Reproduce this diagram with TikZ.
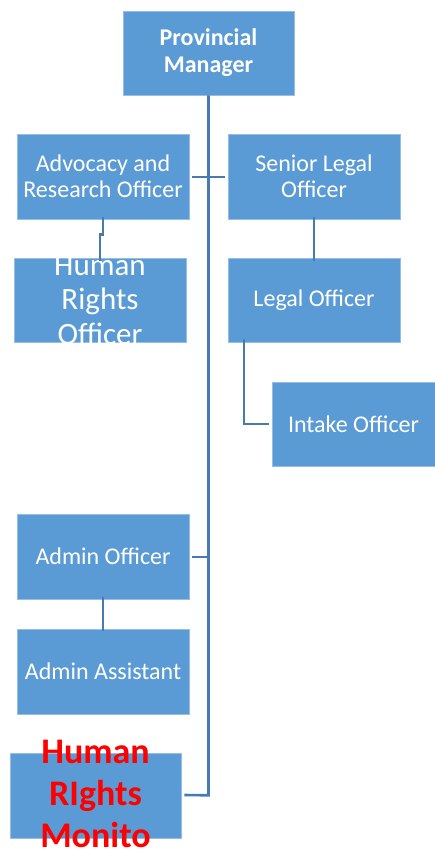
\documentclass[tikz,border=0pt]{standalone}
\usepackage{fontspec}
\setmainfont{Carlito}
\definecolor{boxblue}{RGB}{91,155,213}
\definecolor{boxedge}{RGB}{150,190,228}
\definecolor{linkblue}{RGB}{72,122,178}
\definecolor{alertred}{RGB}{255,0,0}
\begin{document}
\begin{tikzpicture}[x=1pt,y=-1pt,
  post/.style={fill=boxblue,draw=boxedge,line width=0.6pt,inner sep=0pt,
    minimum width=172pt,minimum height=85pt,align=center,text=white,
    font=\fontsize{24}{25.5}\selectfont},
  caption/.style={inner sep=0pt,align=center},
  link/.style={draw=linkblue,line width=2.6pt}]
\useasboundingbox (0,0) rectangle (435,850);

% staff positions
\node[post,minimum width=171pt,minimum height=84pt,
  font=\fontsize{24}{27}\selectfont\bfseries] (pm) at (208.5,53) {Provincial\\Manager};
\node[post] (adv) at (103,176.5) {Advocacy and\\Research Officer};
\node[post] (slo) at (314,176.5) {Senior Legal\\Officer};
\node[post,minimum height=84pt] (hro) at (100,300) {};
\node[post,minimum height=84pt] (lo) at (314,300) {Legal Officer};
\node[post,minimum width=163pt,minimum height=84pt] (io) at (353.5,424) {Intake Officer};
\node[post] (ao) at (103,556.5) {Admin Officer};
\node[post] (aa) at (103,671.5) {Admin Assistant};
\node[post,minimum width=171pt] (hrm) at (95.5,795.5) {};

% oversized captions: the officer's is trimmed to its box
\begin{scope}
  \clip (hro.south west) rectangle (hro.north east);
  \node[caption,text=white,font=\fontsize{31}{34.5}\selectfont] (hrotext) at (hro.center) {Human\\Rights\\Officer};
\end{scope}
\node[caption,text=alertred,font=\fontsize{36}{42}\selectfont\bfseries] (hrmtext) at ([yshift=2pt]hrm.center) {Human\\RIghts\\Monito};

% reporting lines
\coordinate (trunktop) at (pm.south);
\draw[link] (trunktop) -- ++(0,700) -- ([xshift=3pt]hrm.east |- 0,795);
\draw[link] ([xshift=3pt]adv.east |- 0,177) -- ([xshift=-3pt]slo.west |- 0,177);
\draw[link] ([xshift=3pt]ao.east |- 0,557) -- (trunktop |- 0,557);
\draw[link] ([yshift=2pt]adv.south) -- ++(0,17) -- ++(-3,0) -- ([yshift=-3pt]hro.north);
\draw[link] ([yshift=2pt]slo.south) -- ([yshift=-3pt]lo.north);
\draw[link] ([xshift=-70pt,yshift=3pt]lo.south) |- ([xshift=-3pt]io.west);
\draw[link] ([yshift=2pt]ao.south) -- ([yshift=-2pt]aa.north);
\end{tikzpicture}
\end{document}
